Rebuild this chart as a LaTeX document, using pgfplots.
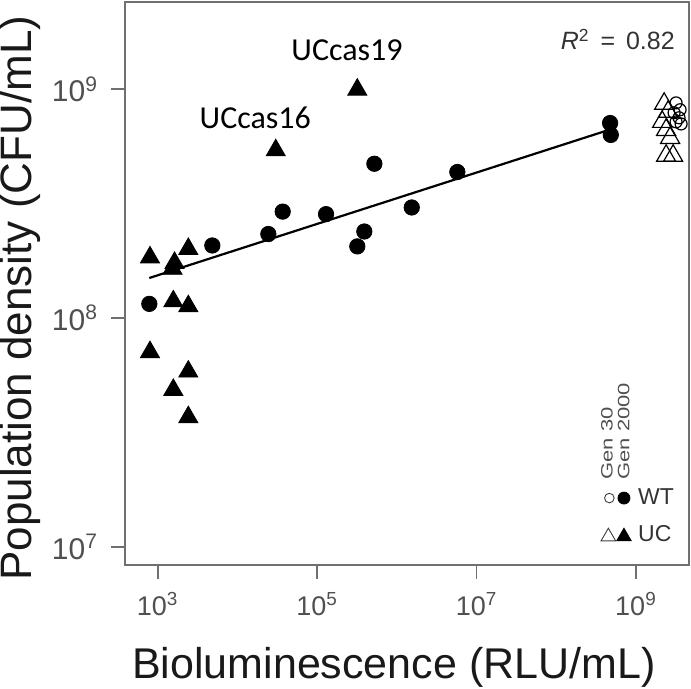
\documentclass[border=0pt]{standalone}
\usepackage{fontspec}
\setmainfont{Liberation Sans}
\newfontfamily\calibri{Carlito}
\usepackage{pgfplots}
\pgfplotsset{compat=1.18}

\definecolor{axgray}{HTML}{707070}
\definecolor{tickgray}{HTML}{505050}
\definecolor{txtgray}{HTML}{333333}

\begin{document}
\begin{tikzpicture}
\begin{axis}[
    scale only axis,
    width=282.15pt, height=281.5pt,
    xmode=log, ymode=log,
    xmin=385.5, xmax=4.624e9,
    ymin=8.337e6, ymax=2.404e9,
    axis line style={axgray, line width=0.9pt},
    xtick={1e3,1e5,1e7,1e9},
    xticklabels={10\textsuperscript{3},10\textsuperscript{5},10\textsuperscript{7},10\textsuperscript{9}},
    ytick={1e7,1e8,1e9},
    yticklabels={10\textsuperscript{7},10\textsuperscript{8},10\textsuperscript{9}},
    xminorticks=false, yminorticks=false,
    xtick pos=left, ytick pos=left,
    tick align=outside,
    major tick length=7pt,
    tick style={axgray, line width=0.8pt},
    xticklabel style={font=\fontsize{13.5}{13.5}\selectfont, text=tickgray, anchor=base, yshift=-18.35pt},
    yticklabel style={font=\fontsize{15}{15}\selectfont, text=tickgray, anchor=east, xshift=-2.85pt},
    xlabel={Bioluminescence (RLU/mL)},
    ylabel={Population density (CFU/mL)},
    xlabel style={font=\fontsize{21.5}{21.5}\selectfont, text=black!90,
      at={(axis description cs:0.477,-0.2025)}, anchor=base},
    ylabel style={font=\fontsize{22}{22}\selectfont, text=black!90,
      at={(axis description cs:-0.1643,0.474)}, anchor=base},
    legend style={draw=none, fill=none, inner sep=0pt, outer sep=0pt,
      at={(axis description cs:0.9734,0.037)}, anchor=south east,
      row sep=8.8pt, column sep=3.5pt,
      nodes={inner sep=0pt, text=txtgray, font=\fontsize{11.5}{11.5}\selectfont}},
    legend cell align=left,
  ]

  % legend: Gen 30 (open) and Gen 2000 (filled) side by side
  \addlegendimage{legend image code/.code={
      \draw[black!75, line width=0.45pt, mark=o, mark size=2.4pt] plot coordinates {(0pt,0pt)};
      \draw[black, mark=*, mark size=3pt] plot coordinates {(7.3pt,0pt)};
    }}
  \addlegendentry{WT}
  \addlegendimage{legend image code/.code={
      \draw[black!75, line width=0.45pt, mark=triangle, mark size=4.2pt] plot coordinates {(-0.5pt,-1pt)};
      \draw[black, mark=triangle*, mark size=4.2pt] plot coordinates {(7.3pt,-1pt)};
    }}
  \addlegendentry{UC}

  % regression line
  \addplot[black, line width=1.1pt, forget plot] coordinates {
    (785,1.496e8) (4.305e8,6.592e8)
  };

  % WT, Gen 2000
  \addplot[only marks, mark=*, mark size=3.85pt, black, forget plot] coordinates {
    (785,1.153e8) (4842,2.075e8) (24430,2.328e8) (36980,2.917e8)
    (1.294e5,2.844e8) (3.192e5,2.056e8) (3.908e5,2.388e8) (5.224e5,4.721e8)
    (1.538e6,3.041e8) (5.741e6,4.345e8) (4.732e8,7.112e8) (4.831e8,6.310e8)
  };

  % UC, Gen 2000
  \addplot[only marks, mark=triangle*, mark size=5.5pt, black, forget plot] coordinates {
    (3.19e5,9.95e8) (3.027e4,5.408e8) (800,1.841e8) (2421,2.004e8)
    (1535,1.641e8) (1626,1.742e8) (1570,1.183e8) (2421,1.127e8)
    (800,7.096e7) (2421,5.834e7) (1570,4.853e7) (2421,3.690e7)
  };

  % UC, Gen 30
  \addplot[only marks, mark=triangle, mark size=5.5pt, black, line width=0.6pt, forget plot] coordinates {
    (2.254e9,8.630e8) (2.529e9,7.962e8) (2.128e9,7.194e8) (2.388e9,6.637e8)
    (2.679e9,6.124e8) (2.388e9,5.117e8) (2.924e9,5.117e8)
  };

  % WT, Gen 30
  \addplot[only marks, mark=o, mark size=3pt, black, line width=0.6pt, forget plot] coordinates {
    (3.184e9,8.710e8) (3.573e9,8.128e8) (3.006e9,7.889e8) (3.467e9,7.499e8)
    (3.184e9,7.194e8) (3.681e9,7.047e8)
  };

  \node[inner sep=0pt, anchor=base west, font=\calibri\fontsize{16}{16}\selectfont] at (axis cs:4.71e4,1.334e9) {UCcas19};
  \node[inner sep=0pt, anchor=base west, font=\calibri\fontsize{16}{16}\selectfont] at (axis cs:3327,6.71e8) {UCcas16};
  \node[inner sep=0pt, anchor=base east, font=\fontsize{12.5}{12.5}\selectfont, text=txtgray] at (axis cs:3.10e9,1.485e9)
    {\textit{R}\textsuperscript{2}\hspace{2pt} = \hspace{2pt}0.82};

  \node[rotate=90, yscale=0.75, inner sep=0pt, anchor=base west, font=\fontsize{11}{11}\selectfont, text=tickgray]
    at (axis description cs:0.8648,0.151) {Gen 30};
  \node[rotate=90, yscale=0.75, inner sep=0pt, anchor=base west, font=\fontsize{11}{11}\selectfont, text=tickgray]
    at (axis description cs:0.8942,0.151) {Gen 2000};
\end{axis}
\pgfresetboundingbox
\path ([xshift=-62.35pt,yshift=-62pt]current axis.south west)
  rectangle ([xshift=1pt,yshift=1pt]current axis.north east);
\end{tikzpicture}
\end{document}
